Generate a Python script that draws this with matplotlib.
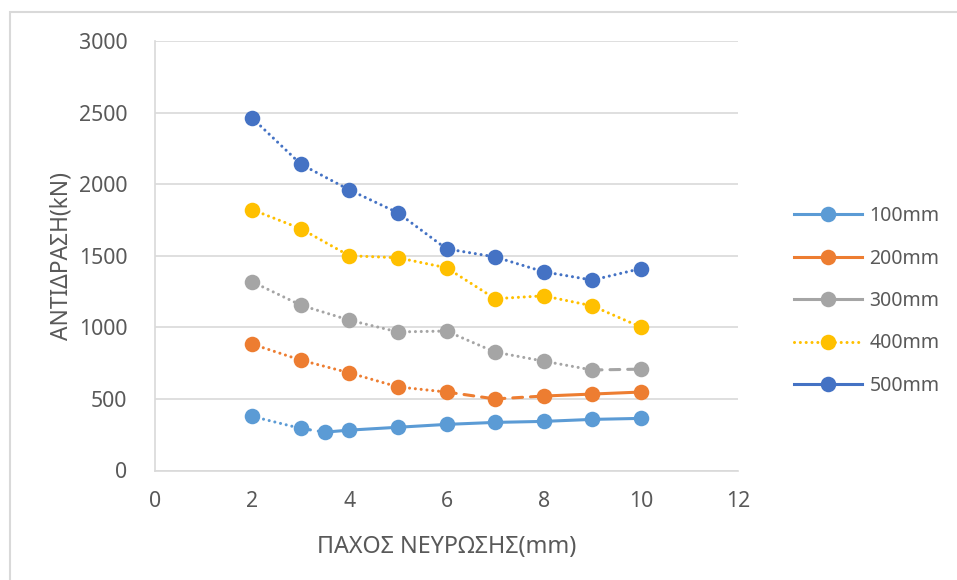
import matplotlib
matplotlib.use("Agg")
import matplotlib.pyplot as plt
from matplotlib.lines import Line2D
from matplotlib.patches import Rectangle

plt.rcParams["font.family"] = ["Noto Sans", "DejaVu Sans"]

# Rib thickness (mm) and reaction (kN) for each rib spacing
x_100 = [2, 3, 3.5, 4, 5, 6, 7, 8, 9, 10]
y_100 = [378, 294, 268, 282, 302, 322, 336, 343, 357, 364]

x_200 = [2, 3, 4, 5, 6, 7, 8, 9, 10]
y_200 = [883, 771, 682, 584, 548, 500, 520, 534, 548]

x_300 = [2, 3, 4, 5, 6, 7, 8, 9, 10]
y_300 = [1318, 1155, 1050, 968, 974, 827, 764, 702, 708]

x_400 = [2, 3, 4, 5, 6, 7, 8, 9, 10]
y_400 = [1822, 1689, 1500, 1486, 1416, 1200, 1220, 1150, 1002]

x_500 = [2, 3, 4, 5, 6, 7, 8, 9, 10]
y_500 = [2462, 2140, 1960, 1800, 1548, 1492, 1388, 1330, 1410]

labels = ["100mm", "200mm", "300mm", "400mm", "500mm"]
colors = ["#5B9BD5", "#ED7D31", "#A5A5A5", "#FFC000", "#4472C4"]

DOT = (0, (0.01, 1.9))
DASH = (0, (3.2, 2.6))
SOLID = "-"

# line style of each segment between consecutive points
seg_styles = [
    [DOT, DASH] + [SOLID] * 7,
    [DOT] * 4 + [DASH, DASH] + [SOLID] * 2,
    [DOT] * 7 + [DASH],
    [DOT] * 8,
    [DOT] * 8,
]
legend_styles = [SOLID, SOLID, SOLID, DOT, SOLID]

series = [(x_100, y_100), (x_200, y_200), (x_300, y_300), (x_400, y_400), (x_500, y_500)]

fig = plt.figure(figsize=(9.57, 5.8), dpi=100)
ax = fig.add_axes([155 / 957, 1 - 470.5 / 580, (738 - 155) / 957, (470.5 - 41) / 580])

# chart-area frame
fig.patches.append(Rectangle((10 / 957, -0.1), 1.2, 1 - 12 / 580 + 0.1,
                             transform=fig.transFigure, fill=False,
                             edgecolor="#D9D9D9", linewidth=1.5, zorder=0))

lw = 2.2
ms = 11.2
for (xs, ys), col, styles in zip(series, colors, seg_styles):
    for i, st in enumerate(styles):
        ax.plot(xs[i:i + 2], ys[i:i + 2], color=col, linewidth=lw, linestyle=st,
                dash_capstyle="round", solid_capstyle="round", zorder=2)
    ax.plot(xs, ys, linestyle="none", marker="o", markersize=ms, color=col,
            markeredgewidth=0, zorder=3)

ax.set_xlim(0, 12)
ax.set_ylim(0, 3000)
ax.set_xticks(range(0, 13, 2))
ax.set_yticks(range(0, 3001, 500))
ax.yaxis.grid(True, color="#D9D9D9", linewidth=1.2)
ax.set_axisbelow(True)
for side in ["top", "right"]:
    ax.spines[side].set_visible(False)
for side in ["left", "bottom"]:
    ax.spines[side].set_color("#D9D9D9")
    ax.spines[side].set_linewidth(1.2)
ax.tick_params(length=0, labelsize=15.3, labelcolor="#595959")
ax.tick_params(axis="y", pad=20)
ax.tick_params(axis="x", pad=15)

ax.set_xlabel("ΠΑΧΟΣ ΝΕΥΡΩΣΗΣ(mm)", fontsize=16.8, color="#595959", labelpad=16)
ax.set_ylabel("ΑΝΤΙΔΡΑΣΗ(kN)", fontsize=16.4, color="#595959")
ax.yaxis.set_label_coords(-0.139, 0.5)

handles = [Line2D([0], [0], color=c, linewidth=lw, linestyle=st, marker="o",
                  markersize=ms, markeredgewidth=0, dash_capstyle="round")
           for c, st in zip(colors, legend_styles)]
leg = fig.legend(handles, labels, loc="center left",
                 bbox_to_anchor=(786 / 957, 1 - 301 / 580), frameon=False,
                 fontsize=14, handlelength=3.5, labelspacing=1.15,
                 handletextpad=0.4, borderaxespad=0)
for t in leg.get_texts():
    t.set_color("#595959")

fig.savefig("out.png", dpi=100)
